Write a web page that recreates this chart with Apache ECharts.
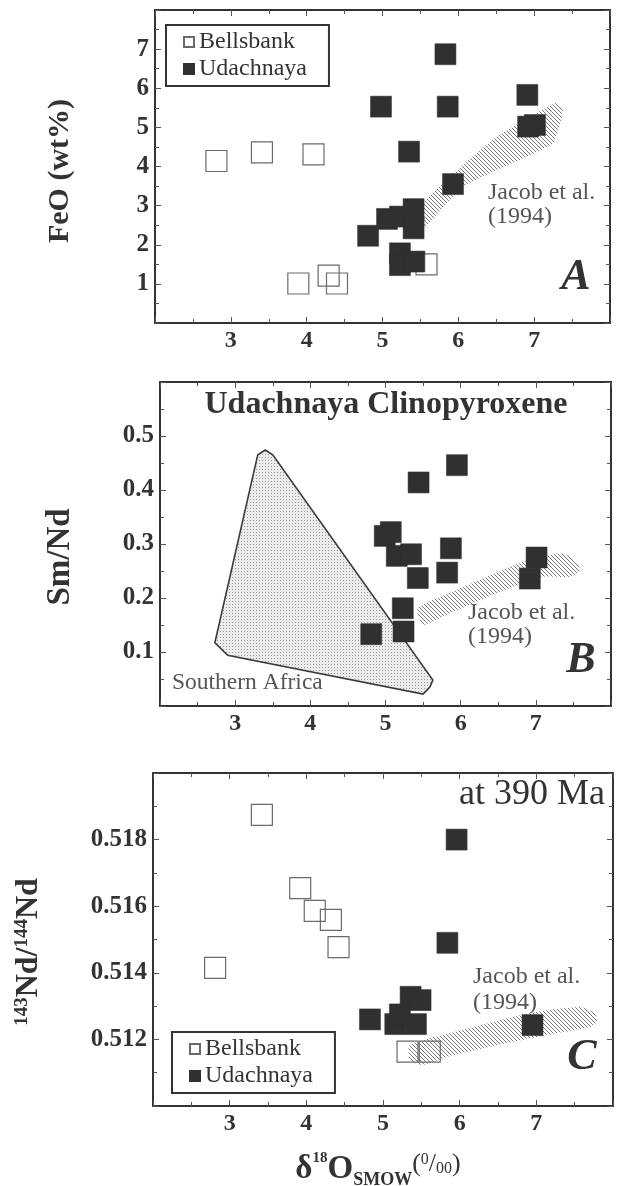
<!DOCTYPE html>
<html><head><meta charset="utf-8">
<script src="https://cdn.jsdelivr.net/npm/echarts@6/dist/echarts.min.js"></script>
<style>html,body{margin:0;padding:0;background:#fff}#c{width:618px;height:1186px}</style>
</head><body><div id="c"></div>
<script>
// ---------- data ----------
const xTickLabels = [3, 4, 5, 6, 7];
const feoTickLabels = [1, 2, 3, 4, 5, 6, 7];
const smndTickLabels = [0.1, 0.2, 0.3, 0.4, 0.5];
const ndTickLabels = [0.512, 0.514, 0.516, 0.518];

// Panel A: FeO (wt%) vs d18O
const feoBellsbank = [[2.81,4.14],[3.41,4.36],[4.09,4.31],[3.89,1.01],[4.29,1.21],[4.40,1.01],[5.58,1.50]];
const feoUdachnaya = [[5.83,6.87],[4.98,5.53],[5.86,5.53],[6.91,5.83],[6.92,5.02],[7.01,5.06],[5.35,4.38],[5.93,3.55],[4.81,2.23],[5.06,2.66],[5.23,2.72],[5.41,2.91],[5.41,2.42],[5.23,1.78],[5.23,1.48],[5.42,1.57]];
const feoJacob = [[5.54,3.07],[6.06,4.04],[6.51,4.76],[7.29,5.63],[7.38,5.45],[7.25,4.60],[6.51,3.91],[6.06,3.48],[5.54,2.43]];

// Panel B: Sm/Nd vs d18O
const smndUdachnaya = [[5.95,0.446],[5.44,0.414],[4.99,0.315],[5.07,0.322],[5.15,0.278],[5.34,0.281],[5.43,0.237],[5.87,0.292],[5.82,0.247],[7.01,0.275],[6.92,0.236],[5.23,0.181],[5.24,0.138],[4.81,0.133]];
const smndJacob = [[5.43,0.181],[6.03,0.220],[6.79,0.265],[7.32,0.283],[7.49,0.274],[7.59,0.252],[7.45,0.239],[7.09,0.239],[6.48,0.209],[5.86,0.172],[5.50,0.150]];
const smndSouthernAfrica = [[3.30,0.465],[3.40,0.474],[3.50,0.465],[5.63,0.048],[5.59,0.035],[5.50,0.022],[2.90,0.094],[2.73,0.117]];

// Panel C: 143Nd/144Nd vs d18O
const ndBellsbank = [[3.42,0.51874],[3.92,0.51654],[4.11,0.51586],[4.32,0.51559],[4.42,0.51477],[2.81,0.51415],[5.32,0.51163],[5.61,0.51163]];
const ndUdachnaya = [[5.96,0.51800],[5.84,0.51490],[4.83,0.51260],[5.16,0.51246],[5.22,0.51275],[5.36,0.51328],[5.49,0.51318],[5.43,0.51246],[6.95,0.51243]];
const ndJacob = [[5.35,0.51183],[6.04,0.51228],[6.92,0.51279],[7.57,0.51297],[7.76,0.51279],[7.79,0.51252],[7.70,0.51237],[7.14,0.51213],[6.49,0.51183],[5.83,0.51147],[5.52,0.51123],[5.35,0.51138]];

// ---------- styles ----------
const SERIF = "'Liberation Serif', 'Times New Roman', Times, serif";
const INK = '#333';

function hatchPattern() {
  const c = document.createElement('canvas'); c.width = 4; c.height = 4;
  const g = c.getContext('2d');
  g.strokeStyle = '#777'; g.lineWidth = 1;
  g.beginPath();
  g.moveTo(0,0); g.lineTo(4,4);
  g.moveTo(-2,2); g.lineTo(2,6);
  g.moveTo(2,-2); g.lineTo(6,2);
  g.stroke();
  return {image: c, repeat: 'repeat'};
}
function dotPattern() {
  const c = document.createElement('canvas'); c.width = 3; c.height = 3;
  const g = c.getContext('2d');
  g.fillStyle = '#ececec'; g.fillRect(0,0,3,3);
  g.fillStyle = '#9a9a9a'; g.fillRect(1,1,1,1);
  return {image: c, repeat: 'repeat'};
}

const grids = [
  {left:155, top:10,  width:455, height:313},
  {left:160, top:382, width:451, height:324},
  {left:153, top:773, width:460, height:333}
];
const yCfg = [
  {min:0, max:8, interval:1, labels:feoTickLabels, fmt: v => String(v)},
  {min:0, max:0.6, interval:0.1, labels:smndTickLabels, fmt: v => v.toFixed(1)},
  {min:0.510, max:0.520, interval:0.002, labels:ndTickLabels, fmt: v => v.toFixed(3)}
];
function hasLabel(list, v) { return list.some(t => Math.abs(t - v) < 1e-9); }

const xAxes = [], yAxes = [];
grids.forEach((g, gi) => {
  ['bottom','top'].forEach(pos => {
    xAxes.push({
      type:'value', gridIndex:gi, position:pos, min:2, max:8, interval:1,
      axisLine:{onZero:false, lineStyle:{color:INK, width:2}},
      axisTick:{show:true, inside:true, length:6, lineStyle:{color:'#555', width:1}},
      minorTick:{show:true, splitNumber:2, length:4, lineStyle:{color:'#555', width:1}},
      splitLine:{show:false},
      axisLabel:{show: pos === 'bottom', margin:6, fontFamily:SERIF, fontWeight:'bold', fontSize:24, color:INK,
        formatter: v => hasLabel(xTickLabels, v) ? String(v) : ''}
    });
  });
  const yc = yCfg[gi];
  ['left','right'].forEach(pos => {
    yAxes.push({
      type:'value', gridIndex:gi, position:pos, min:yc.min, max:yc.max, interval:yc.interval,
      axisLine:{onZero:false, lineStyle:{color:INK, width:2}},
      axisTick:{show:true, inside:true, length:6, lineStyle:{color:'#555', width:1}},
      minorTick:{show:true, splitNumber:2, length:4, lineStyle:{color:'#555', width:1}},
      splitLine:{show:false},
      axisLabel:{show: pos === 'left', margin:6, fontFamily:SERIF, fontWeight:'bold', fontSize:25, color:INK,
        formatter: v => hasLabel(yc.labels, v) ? yc.fmt(v) : ''}
    });
  });
});

function polySeries(poly, gi, fill, stroke, lw, smooth) {
  return {
    type:'custom', xAxisIndex:gi*2, yAxisIndex:gi*2, data:[poly[0]], z:1, silent:true,
    renderItem: (params, api) => ({
      type:'polygon',
      shape:{points: poly.map(p => api.coord(p)), smooth: smooth || 0},
      style:{fill: fill, stroke: stroke || null, lineWidth: lw || 0}
    })
  };
}
function openSeries(data, gi) {
  return {type:'scatter', name:'Bellsbank', xAxisIndex:gi*2, yAxisIndex:gi*2, data:data,
    symbol:'rect', symbolSize:21, z:3, silent:true,
    itemStyle:{color:'rgba(255,255,255,0)', borderColor:'#6a6a6a', borderWidth:1.2, opacity:1}};
}
function filledSeries(data, gi) {
  return {type:'scatter', name:'Udachnaya', xAxisIndex:gi*2, yAxisIndex:gi*2, data:data,
    symbol:'rect', symbolSize:21, z:4, silent:true,
    itemStyle:{color:'#303030', borderColor:'#303030', borderWidth:0.5, opacity:1}};
}

const series = [
  polySeries(feoJacob, 0, hatchPattern(), null, 0, 0.15),
  openSeries(feoBellsbank, 0),
  filledSeries(feoUdachnaya, 0),
  polySeries(smndSouthernAfrica, 1, dotPattern(), '#3a3a3a', 1.6, 0),
  polySeries(smndJacob, 1, hatchPattern(), null, 0, 0.2),
  filledSeries(smndUdachnaya, 1),
  openSeries(ndBellsbank, 2),
  polySeries(ndJacob, 2, hatchPattern(), null, 0, 0.2),
  filledSeries(ndUdachnaya, 2)
];

function legendAt(left, top) {
  return {
    left:left, top:top, orient:'vertical', data:['Bellsbank','Udachnaya'],
    borderColor:INK, borderWidth:2, padding:[5,22,5,17], itemGap:3,
    itemWidth:10, itemHeight:10, selectedMode:false,
    textStyle:{fontFamily:SERIF, fontSize:24, color:INK, lineHeight:24}
  };
}

function txt(x, y, text, opt) {
  return Object.assign({type:'text', x:x, y:y, silent:true, z:10,
    style:Object.assign({text:text, fill:INK, align:'center', verticalAlign:'middle',
      textAlign:'center', textVerticalAlign:'middle', fontFamily:SERIF, fontSize:22}, opt.style || {})},
    opt.rotation ? {rotation: opt.rotation} : {});
}

const R90 = Math.PI / 2;
const graphic = [
  txt(60, 171, 'FeO (wt%)', {rotation:R90, style:{fontWeight:'bold', fontSize:30}}),
  txt(60, 557, 'Sm/Nd', {rotation:R90, style:{fontWeight:'bold', fontSize:33}}),
  txt(29, 952, '{sup|143}{m|Nd/}{sup|144}{m|Nd}', {rotation:R90, style:{
    rich:{
      m:{fontFamily:SERIF, fontWeight:'bold', fontSize:32, fill:INK, lineHeight:40, verticalAlign:'middle'},
      sup:{fontFamily:SERIF, fontWeight:'bold', fontSize:19, fill:INK, lineHeight:40, height:26, verticalAlign:'top'}
    }}}),
  txt(378, 1169, '{m|δ}{sup|18}{m|O}{sub|SMOW}{p|(}{ps|0}{p|/}{pb|00}{p|)}', {style:{
    rich:{
      m:{fontFamily:SERIF, fontWeight:'bold', fontSize:33, fill:INK, lineHeight:46, verticalAlign:'middle'},
      sup:{fontFamily:SERIF, fontWeight:'bold', fontSize:15, fill:INK, lineHeight:46, height:24, verticalAlign:'top'},
      sub:{fontFamily:SERIF, fontWeight:'bold', fontSize:18, fill:INK, lineHeight:46, height:24, verticalAlign:'bottom'},
      p:{fontFamily:SERIF, fontSize:26, fill:INK, lineHeight:46, height:37, verticalAlign:'top'},
      ps:{fontFamily:SERIF, fontSize:16, fill:INK, lineHeight:46, height:27, verticalAlign:'top'},
      pb:{fontFamily:SERIF, fontSize:16, fill:INK, lineHeight:46, verticalAlign:'middle'}
    }}}),
  txt(488, 205, 'Jacob et al.\n(1994)', {style:{align:'left', textAlign:'left', fill:'#555', fontSize:24, lineHeight:24}}),
  txt(468, 625, 'Jacob et al.\n(1994)', {style:{align:'left', textAlign:'left', fill:'#555', fontSize:24, lineHeight:24}}),
  txt(473, 990, 'Jacob et al.\n(1994)', {style:{align:'left', textAlign:'left', fill:'#555', fontSize:24, lineHeight:26}}),
  txt(576, 278, 'A', {style:{fontWeight:'bold', fontStyle:'italic', fontSize:44}}),
  txt(581, 661, 'B', {style:{fontWeight:'bold', fontStyle:'italic', fontSize:44}}),
  txt(582, 1058, 'C', {style:{fontWeight:'bold', fontStyle:'italic', fontSize:44}}),
  txt(386, 405, 'Udachnaya Clinopyroxene', {style:{fontWeight:'bold', fontSize:32}}),
  txt(172, 683, 'Southern Africa', {style:{align:'left', textAlign:'left', fill:'#555', fontSize:23.5}}),
  txt(605, 795, 'at 390 Ma', {style:{align:'right', textAlign:'right', fontSize:36}})
];

const chart = echarts.init(document.getElementById('c'), null, {renderer:'canvas'});
chart.setOption({
  animation:false,
  backgroundColor:'#fff',
  grid:grids,
  xAxis:xAxes,
  yAxis:yAxes,
  legend:[legendAt(166, 25), legendAt(172, 1032)],
  series:series,
  graphic:graphic
});
</script></body></html>
